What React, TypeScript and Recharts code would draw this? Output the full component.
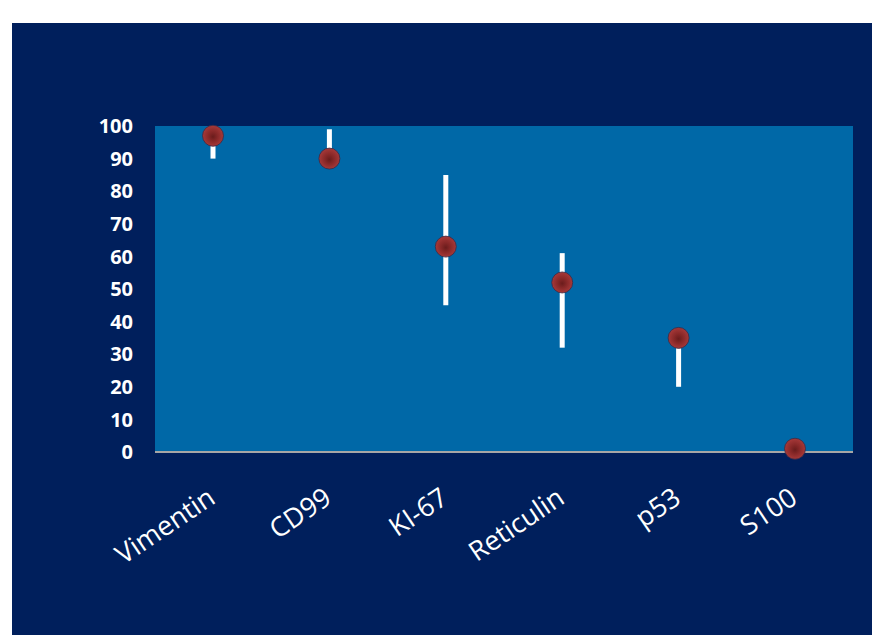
import { LineChart, Line, XAxis, YAxis, CartesianGrid, ErrorBar } from 'recharts'

const categories = ['Vimentin', 'CD99', 'KI-67', 'Reticulin', 'p53', 'S100']
const means = [97, 90, 63, 52, 35, 1]
const lows = [90, 90, 45, 32, 20, 1]
const highs = [97, 99, 85, 61, 35, 1]
const yTicks = [0, 10, 20, 30, 40, 50, 60, 70, 80, 90, 100]

const data = categories.map((name, i) => ({
  name,
  value: means[i],
  err: [means[i] - lows[i], highs[i] - means[i]],
}))

const NAVY = '#001f5c'
const PLOT = '#0068a7'

function Ball(props: any) {
  const { cx, cy, index } = props
  if (cx == null || cy == null) return null
  const id = `ball-${index}`
  return (
    <g key={id}>
      <defs>
        <radialGradient id={id} cx="50%" cy="50%" r="55%" fx="50%" fy="55%">
          <stop offset="0%" stopColor="#6a1c1c" />
          <stop offset="40%" stopColor="#882828" />
          <stop offset="100%" stopColor="#ad3c3c" />
        </radialGradient>
      </defs>
      <circle cx={cx} cy={cy} r={10.5} fill={`url(#${id})`} stroke="#3b2a45" strokeWidth={0.8} />
    </g>
  )
}

function XTick(props: any) {
  const { x, y, payload } = props
  const bx = x + 4
  const by = y + 42
  return (
    <text
      x={bx}
      y={by}
      textAnchor="end"
      fill="#ffffff"
      fontSize={27}
      fontFamily="'Open Sans', sans-serif"
      transform={`rotate(-34, ${bx}, ${by})`}
    >
      {payload.value}
    </text>
  )
}

export default function App() {
  return (
    <div style={{ position: 'absolute', left: 12, top: 23, width: 860, height: 612, background: NAVY }}>
      <LineChart width={860} height={612} data={data} margin={{ top: 103, right: 19, left: 0, bottom: 0 }}>
        <CartesianGrid horizontal={false} vertical={false} fill={PLOT} stroke="none" />
        <XAxis
          dataKey="name"
          height={183}
          tick={<XTick />}
          tickLine={false}
          axisLine={{ stroke: '#a6a6a6', strokeWidth: 2 }}
          interval={0}
          padding={{ left: 58, right: 58 }}
        />
        <YAxis
          width={143}
          domain={[0, 100]}
          ticks={yTicks}
          interval={0}
          axisLine={false}
          tickLine={false}
          tickSize={0}
          tickMargin={22}
          tick={{ fill: '#ffffff', fontSize: 20, fontWeight: 700, fontFamily: "'Open Sans', sans-serif" }}
        />
        <Line
          dataKey="value"
          stroke="none"
          isAnimationActive={false}
          dot={(p: any) => <Ball key={`d-${p.index}`} {...p} />}
          activeDot={false}
        >
          <ErrorBar dataKey="err" width={0} stroke="#ffffff" strokeWidth={5} />
        </Line>
      </LineChart>
    </div>
  )
}
